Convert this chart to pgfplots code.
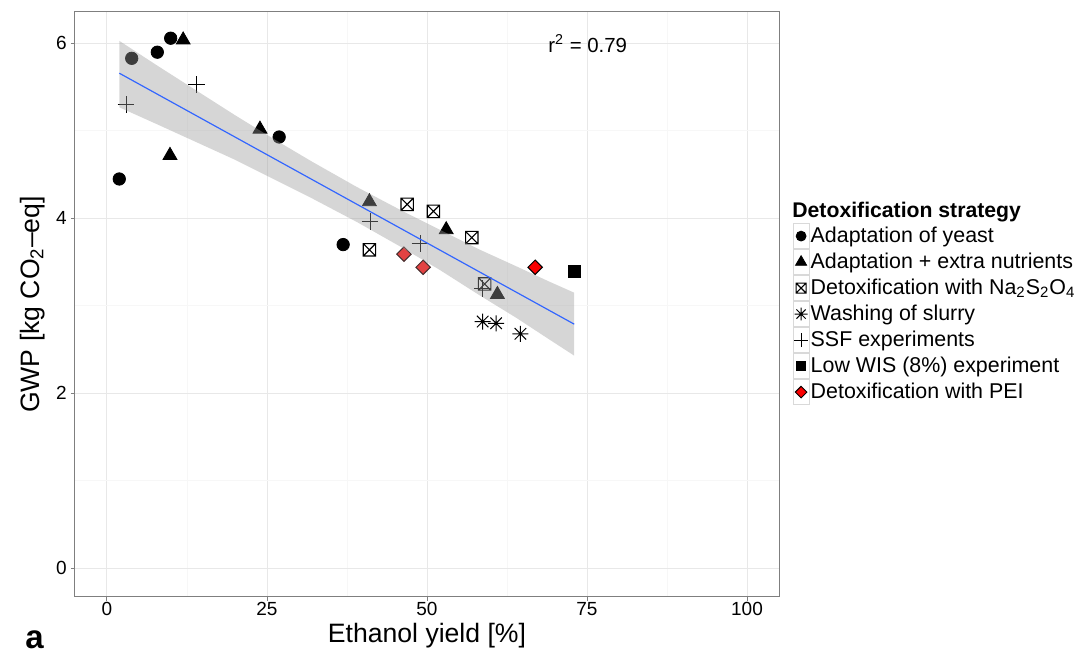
\documentclass[border=0pt]{standalone}
\usepackage{fontspec}
\setmainfont{Liberation Sans}
\usepackage{pgfplots}
\pgfplotsset{compat=1.18}

\definecolor{grey50}{RGB}{127,127,127}
\definecolor{grey90}{RGB}{232,232,232}
\definecolor{grey98}{RGB}{247,247,247}
\definecolor{grey60}{RGB}{153,153,153}
\definecolor{smoothblue}{RGB}{51,102,255}
\definecolor{peired}{RGB}{250,0,0}
\definecolor{peipale}{RGB}{226,66,66}
\definecolor{peiedge}{RGB}{70,45,45}

% square with a cross inside
\pgfdeclareplotmark{boxx}{%
  \pgfpathrectangle{\pgfqpoint{-\pgfplotmarksize}{-\pgfplotmarksize}}{\pgfqpoint{2\pgfplotmarksize}{2\pgfplotmarksize}}%
  \pgfpathmoveto{\pgfqpoint{-\pgfplotmarksize}{-\pgfplotmarksize}}%
  \pgfpathlineto{\pgfqpoint{\pgfplotmarksize}{\pgfplotmarksize}}%
  \pgfpathmoveto{\pgfqpoint{-\pgfplotmarksize}{\pgfplotmarksize}}%
  \pgfpathlineto{\pgfqpoint{\pgfplotmarksize}{-\pgfplotmarksize}}%
  \pgfusepathqstroke}
% eight-armed asterisk (plus and cross overlaid)
\pgfdeclareplotmark{star8}{%
  \pgfpathmoveto{\pgfqpoint{-\pgfplotmarksize}{0pt}}\pgfpathlineto{\pgfqpoint{\pgfplotmarksize}{0pt}}%
  \pgfpathmoveto{\pgfqpoint{0pt}{-\pgfplotmarksize}}\pgfpathlineto{\pgfqpoint{0pt}{\pgfplotmarksize}}%
  \pgfpathmoveto{\pgfqpoint{-.72\pgfplotmarksize}{-.72\pgfplotmarksize}}\pgfpathlineto{\pgfqpoint{.72\pgfplotmarksize}{.72\pgfplotmarksize}}%
  \pgfpathmoveto{\pgfqpoint{-.72\pgfplotmarksize}{.72\pgfplotmarksize}}\pgfpathlineto{\pgfqpoint{.72\pgfplotmarksize}{-.72\pgfplotmarksize}}%
  \pgfusepathqstroke}

\pgfplotsset{keybox/.style={only marks, legend image code/.code={%
  \draw[draw=black!15, fill=white, line width=0.4pt] (-4pt,-6.3pt) rectangle (4pt,6.3pt);
  \draw[##1, every mark/.append style={scale=0.8}] plot coordinates {(0pt,0pt)};}}}

\begin{document}
\begin{tikzpicture}
\useasboundingbox (0,0) rectangle (539pt,328pt);
\begin{axis}[
  at={(37.5pt,29.5pt)}, anchor=south west,
  width=352pt, height=292.5pt, scale only axis,
  xmin=-5, xmax=105, ymin=-0.33, ymax=6.36,
  clip marker paths=true,
  xtick={0,25,50,75,100}, ytick={0,2,4,6},
  minor xtick={12.5,37.5,62.5,87.5}, minor ytick={1,3,5},
  grid=both,
  major grid style={grey90, line width=0.5pt},
  minor grid style={grey98, line width=0.5pt},
  axis line style={grey50, line width=0.5pt},
  tick align=outside, tick pos=left,
  major tick length=2pt, minor tick length=0pt,
  tick style={grey50, line width=0.5pt},
  /pgf/number format/assume math mode=true,
  tick label style={font=\fontsize{9.5}{11}\selectfont, text=black},
  xticklabel style={inner sep=0pt, yshift=-0.5pt},
  yticklabel style={inner sep=0pt, xshift=-2pt},
  xlabel={Ethanol yield [\%]},
  xlabel style={font=\fontsize{13.3}{16}\selectfont, at={(axis description cs:0.5,-0.0786)}, anchor=base, inner sep=0pt},
  ylabel={GWP [kg CO\textsubscript{2}--eq]},
  ylabel style={font=\fontsize{13.3}{16}\selectfont, at={(axis description cs:-0.0511,0.5)}, anchor=base, inner sep=0pt},
  legend cell align=left,
  legend style={at={(1.0189,0.6398)}, anchor=north west, draw=none, fill=none,
    inner sep=0pt, row sep=0pt, column sep=0.6pt,
    font=\fontsize{10.7}{12}\selectfont,
    nodes={inner sep=0pt, text depth=0.15em}},
]
% Adaptation of yeast
\addplot[keybox, mark=*, mark size=3.1pt, black] table {
x y
1.92 4.45
3.86 5.83
7.86 5.90
9.95 6.06
26.9 4.93
36.9 3.70
};
\addlegendentry{Adaptation of yeast}
% Adaptation + extra nutrients
\addplot[keybox, mark=triangle*, mark size=4pt, black] table {
x y
11.9 6.04
9.84 4.72
23.9 5.02
41.0 4.19
53.0 3.87
61.0 3.13
};
\addlegendentry{Adaptation + extra nutrients}
% Detoxification with Na2S2O4
\addplot[keybox, mark=boxx, mark size=3.1pt, black, mark options={line width=0.55pt}] table {
x y
46.9 4.16
51.0 4.08
57.0 3.78
41.0 3.64
59.0 3.25
};
\addlegendentry{Detoxification with Na\textsubscript{2}S\textsubscript{2}O\textsubscript{4}}
% Washing of slurry
\addplot[keybox, mark=star8, mark size=4pt, black, mark options={line width=0.5pt}] table {
x y
58.7 2.82
60.8 2.80
64.6 2.68
};
\addlegendentry{Washing of slurry}
% SSF experiments
\addplot[keybox, mark=+, mark size=4.2pt, black, mark options={line width=0.45pt}] table {
x y
2.97 5.30
14.0 5.53
41.1 3.96
48.9 3.71
58.7 3.20
};
\addlegendentry{SSF experiments}
% Low WIS (8%) experiment
\addplot[keybox, mark=square*, mark size=2.9pt, black] table {
x y
73.0 3.39
};
\addlegendentry{Low WIS (8\%) experiment}
% Detoxification with PEI
\addplot[keybox, mark=square*, mark size=2.55pt, draw=black, fill=peired,
  mark options={rotate=45, draw=black, fill=peired, line width=0.5pt}] table {
x y
66.9 3.44
};
\addlegendentry{Detoxification with PEI}
\addplot[forget plot, only marks, mark=square*, mark size=2.55pt,
  mark options={rotate=45, draw=peiedge, fill=peipale, line width=0.5pt}] table {
x y
46.4 3.59
49.4 3.44
};
% confidence band of the linear fit, laid over the points
\addplot[forget plot, draw=none, fill=grey60, fill opacity=0.4] table {
x y
1.92 6.03
8 5.74
14 5.46
20 5.18
26 4.91
32 4.65
39 4.36
46 4.09
52 3.87
58 3.65
64 3.45
69 3.28
73 3.15
73 2.43
69 2.62
64 2.86
58 3.13
52 3.41
46 3.67
39 3.96
32 4.23
26 4.45
20 4.67
14 4.87
8 5.07
1.92 5.27
};
% linear fit
\addplot[forget plot, smoothblue, line width=0.6pt] coordinates {(1.92,5.66) (73.0,2.79)};
\node[anchor=base west, inner sep=0pt, font=\fontsize{10.2}{12}\selectfont] at (axis cs:68.9,5.90) {r\textsuperscript{2} = 0.79};
\end{axis}
\node[anchor=base west, inner sep=0pt, font=\bfseries\fontsize{10.6}{12}\selectfont] at (396pt,219pt) {Detoxification strategy};
\node[anchor=base west, inner sep=0pt, font=\bfseries\fontsize{16.5}{18}\selectfont] at (12.5pt,3.5pt) {a};
\end{tikzpicture}
\end{document}
